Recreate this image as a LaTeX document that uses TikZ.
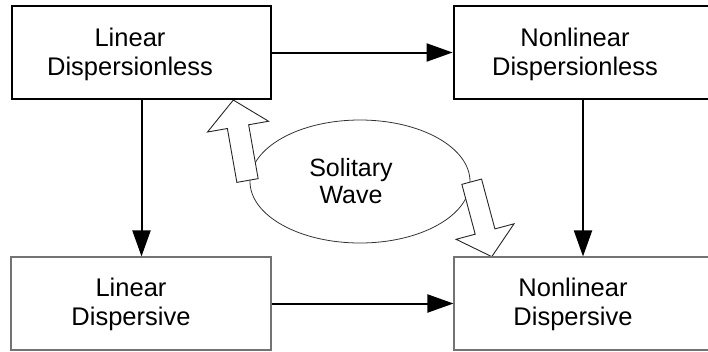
\documentclass[tikz,border=0pt]{standalone}
\usepackage{fontspec}
\setmainfont{Liberation Sans}
\usetikzlibrary{arrows.meta,shapes.geometric}
\begin{document}
\begin{tikzpicture}[x=1pt,y=-1pt,
  thickbox/.style={draw=black, line width=2.8pt, rectangle, inner sep=0pt,
                   minimum height=93pt},
  thinbox/.style={draw=black!55, line width=1.1pt, rectangle, inner sep=0pt,
                  minimum height=93pt},
  lbl/.style={font=\fontsize{25.5}{29}\selectfont, align=center, anchor=base,
              inner sep=0pt},
  flow/.style={line width=2pt, -{Triangle[length=26pt,width=18pt]}},
  blockarrow/.style={draw=black!85, line width=0.9pt, fill=white,
                     line join=miter},
]
\useasboundingbox (0,0) rectangle (708,351);
\clip (0,0) rectangle (708,351);

% the solitary-wave bubble
\node[draw=black!80, line width=0.8pt, ellipse, minimum width=220pt,
      minimum height=123pt, inner sep=0pt] (sw) at (360,181.5) {};
\node[lbl, font=\fontsize{25}{26.5}\selectfont] (swt) at (351,203) {Solitary\\Wave};

% hollow block arrows leaving the bubble
\coordinate (upstart) at (247.5,180.5);
\coordinate (downstart) at (471.7,181.7);
\begin{scope}[shift={(upstart)}, rotate=100]
  \draw[blockarrow] (0,-10.8) -- (54.7,-10.8) -- (54.7,-31) -- (81.7,0)
        -- (54.7,31) -- (54.7,10.8) -- (0,10.8) -- cycle;
\end{scope}
\begin{scope}[shift={(downstart)}, rotate=-75]
  \draw[blockarrow] (0,-10.2) -- (51.6,-10.2) -- (51.6,-30) -- (77.6,0)
        -- (51.6,30) -- (51.6,10.2) -- (0,10.2) -- cycle;
\end{scope}

% the four regimes
\node[thickbox, minimum width=259pt] (ld) at (141.5,52.5) {};
\node[thickbox, minimum width=258pt] (nd) at (583,52.5) {};
\node[thinbox, minimum width=260pt] (lp) at (141,303.5) {};
\node[thinbox, minimum width=258pt] (np) at (583,303.5) {};

% labels, placed by the baseline of their last line
\node[lbl] (ldt) at (130,75) {Linear\\Dispersionless};
\node[lbl] (ndt) at (575,75) {Nonlinear\\Dispersionless};
\node[lbl] (lpt) at (131,325) {Linear\\Dispersive};
\node[lbl] (npt) at (573,325) {Nonlinear\\Dispersive};

% transitions between regimes
\draw[flow] (ld.east) -- (nd.west);
\draw[flow] (lp.east) -- (np.west);
\draw[flow] (ld.south) -- (ld.south |- lp.north);
\draw[flow] (nd.south) -- (nd.south |- np.north);
\end{tikzpicture}
\end{document}
